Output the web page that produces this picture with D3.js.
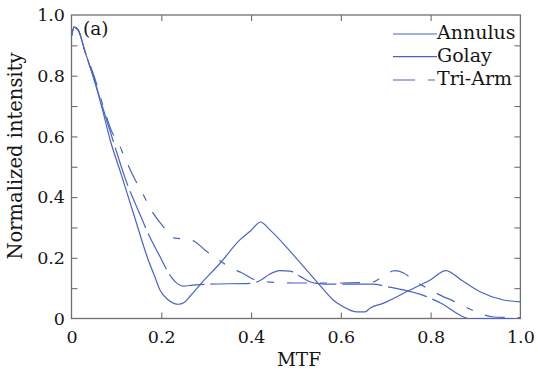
<!DOCTYPE html>
<html>
<head>
<meta charset="utf-8">
<script src="https://cdn.jsdelivr.net/npm/d3@7"></script>
<style>
  body { margin: 0; background: #ffffff; }
  svg { display: block; }
  text { font-family: "DejaVu Serif", serif; fill: #151515; }
</style>
</head>
<body>
<svg id="chart" width="538" height="372"></svg>
<script>
// Normalized intensity versus MTF for three aperture layouts
const seriesNames = ["Annulus", "Golay", "Tri-Arm"];

const annulusMtf = [0, 0.006, 0.015, 0.03, 0.05, 0.069, 0.086, 0.11, 0.14, 0.171, 0.185, 0.197, 0.215, 0.228, 0.238, 0.25, 0.265, 0.286, 0.331, 0.375, 0.40, 0.421, 0.442, 0.50, 0.55, 0.583, 0.598, 0.635, 0.654, 0.665, 0.694, 0.754, 0.80, 0.834, 0.87, 0.91, 0.962, 1.0];
const annulusIntensity = [0.93, 0.96, 0.95, 0.88, 0.79, 0.688, 0.589, 0.478, 0.337, 0.193, 0.14, 0.094, 0.062, 0.05, 0.047, 0.052, 0.075, 0.111, 0.182, 0.259, 0.29, 0.318, 0.292, 0.20, 0.115, 0.061, 0.045, 0.022, 0.022, 0.034, 0.05, 0.094, 0.128, 0.158, 0.125, 0.088, 0.061, 0.055];

const golayMtf = [0, 0.006, 0.015, 0.03, 0.05, 0.071, 0.092, 0.12, 0.156, 0.167, 0.201, 0.216, 0.232, 0.249, 0.27, 0.30, 0.40, 0.42, 0.44, 0.464, 0.487, 0.51, 0.531, 0.546, 0.58, 0.67, 0.702, 0.791, 0.821, 0.888, 0.95, 1.0];
const golayIntensity = [0.93, 0.96, 0.95, 0.88, 0.79, 0.688, 0.589, 0.46, 0.331, 0.292, 0.193, 0.15, 0.12, 0.107, 0.11, 0.113, 0.116, 0.125, 0.145, 0.158, 0.156, 0.138, 0.121, 0.116, 0.113, 0.113, 0.105, 0.072, 0.052, 0.0, 0.0, 0.0];

const triArmMtf = [0, 0.006, 0.015, 0.03, 0.05, 0.073, 0.093, 0.101, 0.119, 0.138, 0.16, 0.173, 0.201, 0.23, 0.26, 0.275, 0.297, 0.334, 0.364, 0.379, 0.409, 0.435, 0.50, 0.60, 0.64, 0.665, 0.694, 0.72, 0.739, 0.761, 0.80, 0.828, 0.843, 0.873, 0.91, 0.94, 1.0];
const triArmIntensity = [0.93, 0.96, 0.95, 0.88, 0.80, 0.688, 0.606, 0.589, 0.529, 0.468, 0.408, 0.369, 0.309, 0.265, 0.261, 0.253, 0.226, 0.187, 0.16, 0.151, 0.127, 0.121, 0.117, 0.117, 0.118, 0.118, 0.138, 0.158, 0.151, 0.127, 0.094, 0.072, 0.063, 0.041, 0.017, 0.005, 0.003];

const xTickValues = [0, 0.2, 0.4, 0.6, 0.8, 1.0];
const xTickLabels = ["0", "0.2", "0.4", "0.6", "0.8", "1.0"];
const yTickValues = [0, 0.2, 0.4, 0.6, 0.8, 1.0];
const yTickLabels = ["0", "0.2", "0.4", "0.6", "0.8", "1.0"];
const yMinorValues = [0.1, 0.3, 0.5, 0.7, 0.9];

const series = [
  { name: seriesNames[0], mtf: annulusMtf, val: annulusIntensity, dash: null, legendDash: null },
  { name: seriesNames[1], mtf: golayMtf, val: golayIntensity, dash: "40,6", legendDash: null },
  { name: seriesNames[2], mtf: triArmMtf, val: triArmIntensity, dash: "20,13,7,13", legendDash: "22,13,7,13" }
];

const lineColor = "#4a63c6";
const frameColor = "#6f6f6f";

const svg = d3.select("#chart");
const plotLeft = 71.5, plotRight = 520.4, plotTop = 15, plotBottom = 318.5;

const x = d3.scaleLinear().domain([0, 1]).range([plotLeft, plotRight]);
const y = d3.scaleLinear().domain([0, 1]).range([plotBottom, plotTop]);

const tickLen = 6;

function styleAxis(g) {
  g.select(".domain").remove();
  g.selectAll(".tick line").attr("stroke", frameColor).attr("stroke-width", 1.1);
  g.selectAll(".tick text").style("font-size", "17.5px").attr("fill", "#151515");
}

// bottom axis
svg.append("g")
  .attr("transform", `translate(0,${plotBottom})`)
  .call(d3.axisBottom(x).tickValues(xTickValues)
    .tickFormat((d, i) => xTickLabels[i])
    .tickSize(-tickLen).tickPadding(12))
  .call(styleAxis)
  .call(g => g.selectAll(".tick line").filter(d => d === 0 || d === 1).remove());

// top axis (ticks only)
svg.append("g")
  .attr("transform", `translate(0,${plotTop})`)
  .call(d3.axisTop(x).tickValues(xTickValues.slice(1, -1)).tickFormat("").tickSize(-tickLen))
  .call(styleAxis);

// left axis
svg.append("g")
  .attr("transform", `translate(${plotLeft},0)`)
  .call(d3.axisLeft(y).tickValues(yTickValues)
    .tickFormat((d, i) => yTickLabels[i])
    .tickSize(-tickLen).tickPadding(6.5))
  .call(styleAxis)
  .call(g => g.selectAll(".tick line").filter(d => d === 0 || d === 1).remove());

svg.append("g")
  .attr("transform", `translate(${plotLeft},0)`)
  .call(d3.axisLeft(y).tickValues(yMinorValues).tickFormat("").tickSize(-tickLen))
  .call(styleAxis);

// right axis (ticks only)
svg.append("g")
  .attr("transform", `translate(${plotRight},0)`)
  .call(d3.axisRight(y).tickValues(yMinorValues.concat(yTickValues.slice(1, -1))).tickFormat("").tickSize(-tickLen))
  .call(styleAxis);

// frame
svg.append("rect")
  .attr("x", plotLeft).attr("y", plotTop)
  .attr("width", plotRight - plotLeft).attr("height", plotBottom - plotTop)
  .attr("fill", "none").attr("stroke", frameColor).attr("stroke-width", 1.3);

// curves
const line = d3.line()
  .x(d => x(d[0]))
  .y(d => y(d[1]))
  .curve(d3.curveMonotoneX);

const plot = svg.append("g");
series.forEach(s => {
  const pts = s.mtf.map((m, i) => [m, s.val[i]]);
  plot.append("path")
    .datum(pts)
    .attr("d", line)
    .attr("fill", "none")
    .attr("stroke", lineColor)
    .attr("stroke-width", 1.2)
    .attr("stroke-dasharray", s.dash);
});

// axis titles
svg.append("text")
  .attr("x", (plotLeft + plotRight) / 2 + 3).attr("y", 366)
  .attr("text-anchor", "middle")
  .style("font-size", "18.5px")
  .text("MTF");

svg.append("text")
  .attr("transform", `translate(22,156) rotate(-90)`)
  .attr("text-anchor", "middle")
  .style("font-size", "19.5px")
  .text("Normalized intensity");

// panel label
svg.append("text")
  .attr("x", 83).attr("y", 35)
  .style("font-size", "18.5px")
  .text("(a)");

// legend
const legend = svg.append("g");
const legendRows = [34, 56.7, 80];
series.forEach((s, i) => {
  legend.append("line")
    .attr("x1", 393).attr("x2", 437)
    .attr("y1", legendRows[i]).attr("y2", legendRows[i])
    .attr("stroke", lineColor).attr("stroke-width", 1.2)
    .attr("stroke-dasharray", s.legendDash);
  legend.append("text")
    .attr("x", 437).attr("y", legendRows[i] + 5)
    .style("font-size", "19px")
    .text(s.name);
});
</script>
</body>
</html>
